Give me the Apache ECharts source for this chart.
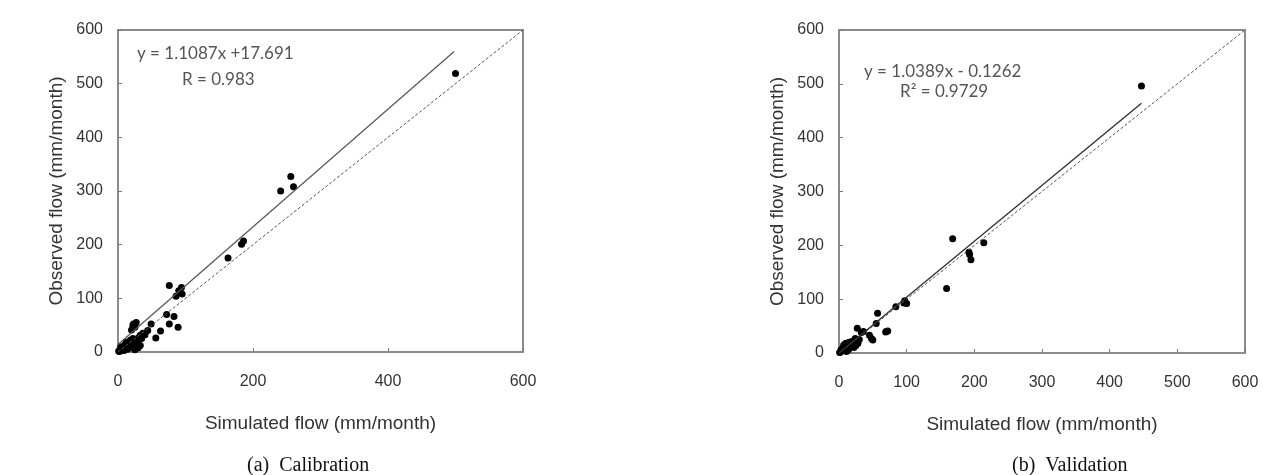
<!DOCTYPE html>
<html>
<head>
<meta charset="utf-8">
<script src="https://cdn.jsdelivr.net/npm/echarts@6/dist/echarts.min.js"></script>
<style>
  html, body { margin: 0; padding: 0; background: #fff; }
  #chart { width: 1263px; height: 475px; }
</style>
</head>
<body>
<div id="chart"></div>
<script>
// (a) calibration: [simulated, observed]
var calibPoints = [
  [500, 519], [241, 300], [256, 327], [260, 308], [186, 207], [183, 201], [163, 175],
  [76, 124], [94, 120], [86, 104], [95, 108], [90, 114], [72, 70], [83, 66], [76, 52],
  [89, 46], [49, 52], [63, 39], [56, 26], [23, 52], [25, 46], [27, 55], [22, 50], [20, 41],
  [37, 35], [33, 31], [30, 26], [28, 20], [22, 25], [20, 15], [18, 22], [15, 12], [12, 10],
  [10, 13], [8, 6], [6, 8], [5, 3], [3, 4], [2, 1], [1, 2], [14, 5], [25, 4], [30, 8],
  [40, 32], [44, 40], [35, 25], [12, 18], [17, 8], [9, 3], [4, 10], [27, 15], [33, 12]
];
// (b) validation
var validPoints = [
  [447, 496], [168, 212], [214, 205], [193, 183], [195, 173], [192, 187], [159, 120],
  [97, 97], [96, 93], [100, 92], [84, 86], [57, 74], [55, 55], [70, 40], [72, 41], [69, 39],
  [48, 27], [50, 24], [45, 33], [27, 46], [33, 38], [36, 40], [24, 27], [20, 22], [18, 15],
  [15, 20], [12, 12], [10, 18], [8, 8], [6, 10], [5, 4], [3, 6], [2, 2], [1, 1], [14, 6],
  [22, 10], [28, 18], [30, 25], [11, 3], [17, 12], [25, 14], [7, 15]
];
// trend line end points
var calibTrend = [[0, 14], [498, 560]];
var validTrend = [[0, 0], [447, 464]];
var oneToOne = [[0, 0], [600, 600]];

var calibXTicks = 200;
var validXTicks = 100;
var yTicks = 100;

var calibEq = ['y = 1.1087x +17.691', 'R = 0.983'];
var validEq = ['y = 1.0389x - 0.1262', 'R\u00b2 = 0.9729'];
var captions = ['(a)  Calibration', '(b)  Validation'];

var chart = echarts.init(document.getElementById('chart'));

function xAx(idx, interval) {
  return {
    gridIndex: idx, type: 'value', min: 0, max: 600, interval: interval,
    name: 'Simulated flow (mm/month)', nameLocation: 'middle', nameGap: 62,
    nameMoveOverlap: false,
    nameTextStyle: { fontFamily: 'Liberation Sans', fontSize: 19, color: '#333' },
    axisLine: { show: true, onZero: false, lineStyle: { color: '#8c8c8c', width: 2 } },
    axisTick: { show: true, inside: true, length: 4, lineStyle: { color: '#777' } },
    axisLabel: { fontFamily: 'Liberation Sans', fontSize: 16, color: '#333', margin: 22 },
    splitLine: { show: false }
  };
}
function yAx(idx) {
  return {
    gridIndex: idx, type: 'value', min: 0, max: 600, interval: yTicks,
    name: 'Observed flow (mm/month)', nameLocation: 'middle', nameGap: 52,
    nameMoveOverlap: false,
    nameTextStyle: { fontFamily: 'Liberation Sans', fontSize: 19, color: '#333' },
    axisLine: { show: true, onZero: false, lineStyle: { color: '#8c8c8c', width: 2 } },
    axisTick: { show: true, inside: true, length: 4, lineStyle: { color: '#777' } },
    axisLabel: { fontFamily: 'Liberation Sans', fontSize: 16, color: '#333', margin: 15 },
    splitLine: { show: false }
  };
}

var option = {
  backgroundColor: '#fff',
  animation: false,
  grid: [
    { left: 118, top: 30, width: 405, height: 322, show: true, borderColor: '#8c8c8c', borderWidth: 2 },
    { left: 839, top: 30, width: 406, height: 323, show: true, borderColor: '#8c8c8c', borderWidth: 2 }
  ],
  xAxis: [xAx(0, calibXTicks), xAx(1, validXTicks)],
  yAxis: [yAx(0), yAx(1)],
  series: [
    { type: 'line', xAxisIndex: 0, yAxisIndex: 0, data: oneToOne, symbol: 'none',
      lineStyle: { color: '#555', width: 1, type: [3, 2] } },
    { type: 'line', xAxisIndex: 0, yAxisIndex: 0, data: calibTrend, symbol: 'none',
      lineStyle: { color: '#555', width: 1.2 } },
    { type: 'scatter', xAxisIndex: 0, yAxisIndex: 0, data: calibPoints, symbolSize: 7,
      itemStyle: { color: '#000', opacity: 1 } },
    { type: 'line', xAxisIndex: 1, yAxisIndex: 1, data: oneToOne, symbol: 'none',
      lineStyle: { color: '#555', width: 1, type: [3, 2] } },
    { type: 'line', xAxisIndex: 1, yAxisIndex: 1, data: validTrend, symbol: 'none',
      lineStyle: { color: '#333', width: 1.4 } },
    { type: 'scatter', xAxisIndex: 1, yAxisIndex: 1, data: validPoints, symbolSize: 7,
      itemStyle: { color: '#000', opacity: 1 } }
  ],
  graphic: [
    { type: 'text', left: 137, top: 45, style: { text: calibEq[0], fontFamily: 'Lato', fontSize: 17, fill: '#555' } },
    { type: 'text', left: 182, top: 71, style: { text: calibEq[1], fontFamily: 'Lato', fontSize: 17, fill: '#555' } },
    { type: 'text', left: 864, top: 63, style: { text: validEq[0], fontFamily: 'Lato', fontSize: 17, fill: '#555' } },
    { type: 'text', left: 900, top: 83, style: { text: validEq[1], fontFamily: 'Lato', fontSize: 17, fill: '#555' } },
    { type: 'text', left: 247, top: 456, style: { text: captions[0], fontFamily: 'Liberation Serif', fontSize: 20, fill: '#111' } },
    { type: 'text', left: 1012, top: 456, style: { text: captions[1], fontFamily: 'Liberation Serif', fontSize: 20, fill: '#111' } }
  ]
};
chart.setOption(option);
</script>
</body>
</html>
